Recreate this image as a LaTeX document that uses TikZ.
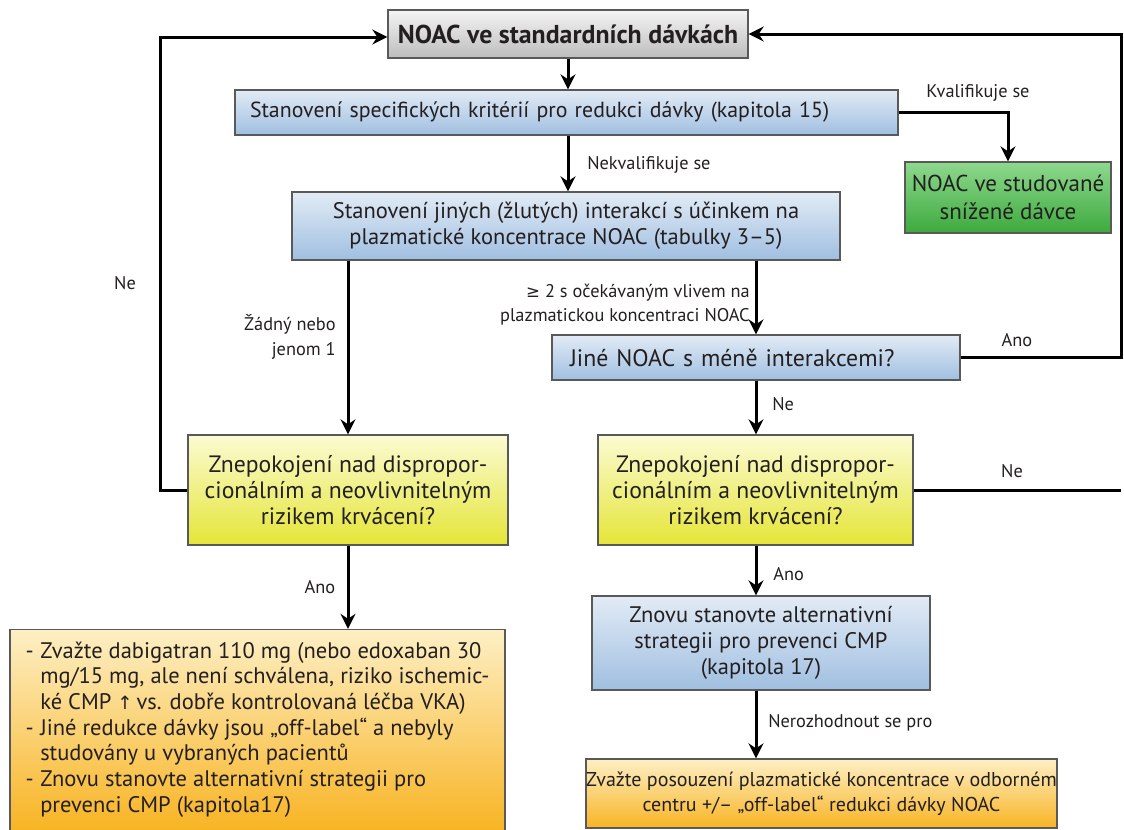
\documentclass[tikz,border=0pt]{standalone}
\usepackage{fontspec}
\setmainfont{PT Sans}
\newfontfamily\glyphfont{DejaVu Sans}
\usetikzlibrary{arrows.meta}
\usetikzlibrary{calc}

\definecolor{txt}{HTML}{231F20}
\definecolor{grayT}{HTML}{F4F4F4}
\definecolor{grayB}{HTML}{BDBDBD}
\definecolor{blueT}{HTML}{E2EBF5}
\definecolor{blueB}{HTML}{A0BFE1}
\definecolor{greenT}{HTML}{8ED88E}
\definecolor{greenB}{HTML}{3DAA3D}
\definecolor{yelT}{HTML}{FBFBD2}
\definecolor{yelB}{HTML}{E5E538}
\definecolor{oraT}{HTML}{FDEFC4}
\definecolor{oraB}{HTML}{F8B424}

\tikzset{
	sz/.style 2 args={minimum width=#1*0.6pt, minimum height=#2*0.6pt},
	box/.style={draw=black!65, line width=0.8pt, inner sep=0pt, align=center, text=txt,
		font=\fontsize{13.5}{15.6}\selectfont},
	graybox/.style={box, top color=grayT, bottom color=grayB},
	bluebox/.style={box, top color=blueT, bottom color=blueB},
	greenbox/.style={box, top color=greenT, bottom color=greenB},
	yelbox/.style={box, top color=yelT, bottom color=yelB},
	orabox/.style={box, top color=oraT, bottom color=oraB},
	flow/.style={line width=1.8pt, -{Stealth[length=9pt,width=9pt,inset=3pt]}},
	link/.style={line width=1.8pt},
	lbl/.style={text=txt, inner sep=0pt, font=\fontsize{11}{14.5}\selectfont},
}

\begin{document}
\begin{tikzpicture}[x=0.6pt,y=-0.6pt]

	\useasboundingbox (0,0) rectangle (1124,829);
	\coordinate (lt) at (160,0);
	\coordinate (rt) at (1121,0);

	% Level 0
	\node [graybox,sz={360}{48},font=\fontsize{15.5}{18}\selectfont\bfseries] (noac) at (568,34)
		{NOAC ve standardních dávkách};

	% Level 1
	\node [bluebox,sz={663}{45},text width=633*0.6pt,inner xsep=15*0.6pt,align=left,
		font=\fontsize{13.1}{15.6}\selectfont] (krit) at (566.5,112.5)
		{Stanovení specifických kritérií pro redukci dávky (kapitola 15)};
	\node [greenbox,sz={206}{71},font=\fontsize{13.8}{16.5}\selectfont] (studov) at (1008,197.5)
		{NOAC ve studované\\snížené dávce};

	% Level 2
	\node [bluebox,sz={548}{68}] (inter) at (566,226)
		{Stanovení jiných (žlutých) interakcí s účinkem na\\plazmatické koncentrace NOAC (tabulky 3--5)};
	\node [bluebox,sz={408}{45},text width=372*0.6pt,inner xsep=18*0.6pt,align=left,
		font=\fontsize{14.3}{17}\selectfont] (jine) at (756,357.5)
		{Jiné NOAC s méně interakcemi?};

	% Level 3
	\node [yelbox,sz={320}{110},font=\fontsize{14.2}{15.6}\selectfont] (zne1) at (348,490)
		{Znepokojení nad dispropor-\\cionálním a neovlivnitelným\\rizikem krvácení?};
	\node [yelbox,sz={315}{110},font=\fontsize{14.2}{15.6}\selectfont] (zne2) at (755.5,490)
		{Znepokojení nad dispropor-\\cionálním a neovlivnitelným\\rizikem krvácení?};

	% Level 4
	\node [orabox,sz={495}{201},font=\fontsize{13.5}{15.4}\selectfont] (zvaz1) at (257.5,730)
		{\begin{tabular}{@{}l@{\hspace{4pt}}l@{}}
			- & Zvažte dabigatran 110 mg (nebo edoxaban 30\\
			  & mg/15 mg, ale není schválena, riziko ischemic-\\
			  & ké CMP {\glyphfont\fontsize{11}{15.4}\selectfont ↑}\,vs. dobře kontrolovaná léčba VKA)\\
			- & Jiné redukce dávky jsou „off-label“ a nebyly\\
			  & studovány u vybraných pacientů\\
			- & Znovu stanovte alternativní strategii pro\\
			  & prevenci CMP (kapitola17)
		\end{tabular}};
	\node [bluebox,sz={338}{94}] (alt) at (761,643)
		{Znovu stanovte alternativní\\strategii pro prevenci CMP\\(kapitola 17)};
	\node [orabox,sz={457}{69},font=\fontsize{12}{15}\selectfont] (zvaz2) at (821.5,793.5)
		{Zvažte posouzení plazmatické koncentrace v odborném\\centru +/-- „off-label“ redukci dávky NOAC};

	% Arrows
	\draw [flow] (noac.south) -- (noac.south |- krit.north);
	\draw [flow] (krit.east) -| (studov.north);
	\draw [flow] (noac.south |- krit.south) -- (noac.south |- inter.north);
	\draw [flow] (zne1.north |- inter.south) -- (zne1.north);
	\draw [flow] (jine.north |- inter.south) -- (jine.north);
	\draw [flow] (jine.south) -- (jine.south |- zne2.north);
	\draw [flow] (jine.east) -- (jine.east -| rt) |- (noac.east);
	\draw [link] (zne2.east) -- (zne2.east -| rt);
	\draw [flow] (zne1.west) -- (zne1.west -| lt) |- ($(noac.west)+(0,3)$);
	\draw [flow] (zne1.south) -- (zne1.south |- zvaz1.north);
	\draw [flow] (jine.south |- zne2.south) -- (jine.south |- alt.north);
	\draw [flow] (jine.south |- alt.south) -- (jine.south |- zvaz2.north);

	% Labels
	\node [lbl] (kval) at (978,93) {Kvalifikuje se};
	\node [lbl,anchor=west] (nekval) at (587,165) {Nekvalifikuje se};
	\node [lbl,anchor=east,align=right] (zadny) at (336,337) {Žádný nebo\\jenom 1};
	\node [lbl,anchor=east,align=right] (vice) at (750,305)
		{{\glyphfont\fontsize{10}{14.5}\selectfont ≥} 2 s očekávaným vlivem na\\plazmatickou koncentraci NOAC};
	\node [lbl] (ano1) at (1017,340) {Ano};
	\node [lbl,anchor=west] (ne1) at (772,404) {Ne};
	\node [lbl] (ne2) at (125,283) {Ne};
	\node [lbl] (ne3) at (1012,471) {Ne};
	\node [lbl] (ano2) at (320,587) {Ano};
	\node [lbl,anchor=west] (ano3) at (773,574) {Ano};
	\node [lbl,anchor=west] (nerozh) at (768,723) {Nerozhodnout se pro};

\end{tikzpicture}
\end{document}
